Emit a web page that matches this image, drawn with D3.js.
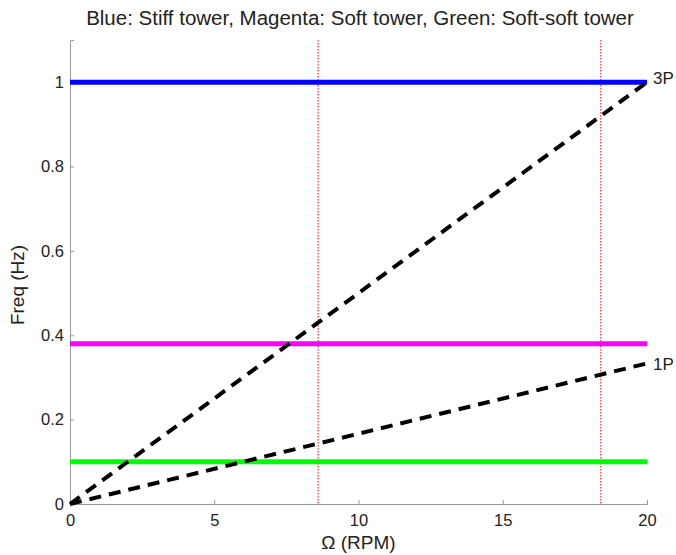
<!DOCTYPE html>
<html><head><meta charset="utf-8">
<script src="https://cdn.jsdelivr.net/npm/d3@7"></script>
<style>body{margin:0;background:#fff}text{font-family:"Liberation Sans",Arial,sans-serif;fill:#222}</style>
</head><body>
<script>
const towerNames = ["Stiff tower","Soft tower","Soft-soft tower"];
const towerFreqs = [1.0, 0.38, 0.10];
const towerColors = ["#0000ff","#ff00ff","#00ff00"];
const rotorSpeeds = [8.6, 18.4];
const harmonicLabels = ["3P","1P"];
const harmonicMultiples = [3, 1];
const omegaRange = [0, 20];
const xTicks = [0,5,10,15,20];
const yTicks = [0,0.2,0.4,0.6,0.8,1];

const W=676,H=555;
const m={l:70,r:29,t:40,b:51};
const svg=d3.select("body").append("svg").attr("width",W).attr("height",H);
const x=d3.scaleLinear().domain([0,20]).range([m.l,W-m.r]);
const y=d3.scaleLinear().domain([0,1.1]).range([H-m.b,m.t]);

// axes
const ax=svg.append("g").attr("transform",`translate(0,${H-m.b})`)
 .call(d3.axisBottom(x).tickValues(xTicks).tickSize(-4).tickPadding(10).tickFormat(d3.format("d")));
const ay=svg.append("g").attr("transform",`translate(${m.l},0)`)
 .call(d3.axisLeft(y).tickValues(yTicks).tickSize(-4).tickPadding(6).tickFormat(d=>d===0?"0":d===1?"1":d3.format(".1f")(d)));
[ax,ay].forEach(g=>{g.selectAll("path,line").attr("stroke","#999");g.selectAll("text").style("font-size","16.5px").attr("fill","#222");});

// vertical red dotted
svg.selectAll(".rs").data(rotorSpeeds).join("line")
 .attr("x1",d=>x(d)).attr("x2",d=>x(d)).attr("y1",y(1.1)).attr("y2",y(0))
 .attr("stroke","#ff0000").attr("stroke-width",1).attr("stroke-dasharray","1.5,1.5");

// tower lines
svg.selectAll(".tw").data(towerFreqs).join("line")
 .attr("x1",x(omegaRange[0])).attr("x2",x(omegaRange[1]))
 .attr("y1",d=>y(d)).attr("y2",d=>y(d))
 .attr("stroke",(d,i)=>towerColors[i]).attr("stroke-width",5);

// harmonic lines
const line=d3.line().x(d=>x(d[0])).y(d=>y(d[1]));
harmonicMultiples.forEach((k,i)=>{
  const pts=omegaRange.map(o=>[o,k*o/60]);
  svg.append("path").attr("d",line(pts)).attr("fill","none").attr("stroke","#000")
    .attr("stroke-width",4).attr("stroke-dasharray","12,8");
  svg.append("text").attr("x",x(20)+6).attr("y",y(k*20/60)+(i===0?-4:1)).attr("dy","0.35em")
    .style("font-size","17px").text(harmonicLabels[i]);
});

svg.append("text").attr("x",360).attr("y",25).attr("text-anchor","middle").style("font-size","20.5px")
 .text("Blue: Stiff tower, Magenta: Soft tower, Green: Soft-soft tower");
svg.append("text").attr("x",x(10)).attr("y",549).attr("text-anchor","middle").style("font-size","19px").text("Ω (RPM)");
svg.append("text").attr("transform",`translate(24,285) rotate(-90)`).attr("text-anchor","middle").style("font-size","19px").text("Freq (Hz)");
</script>
</body></html>
